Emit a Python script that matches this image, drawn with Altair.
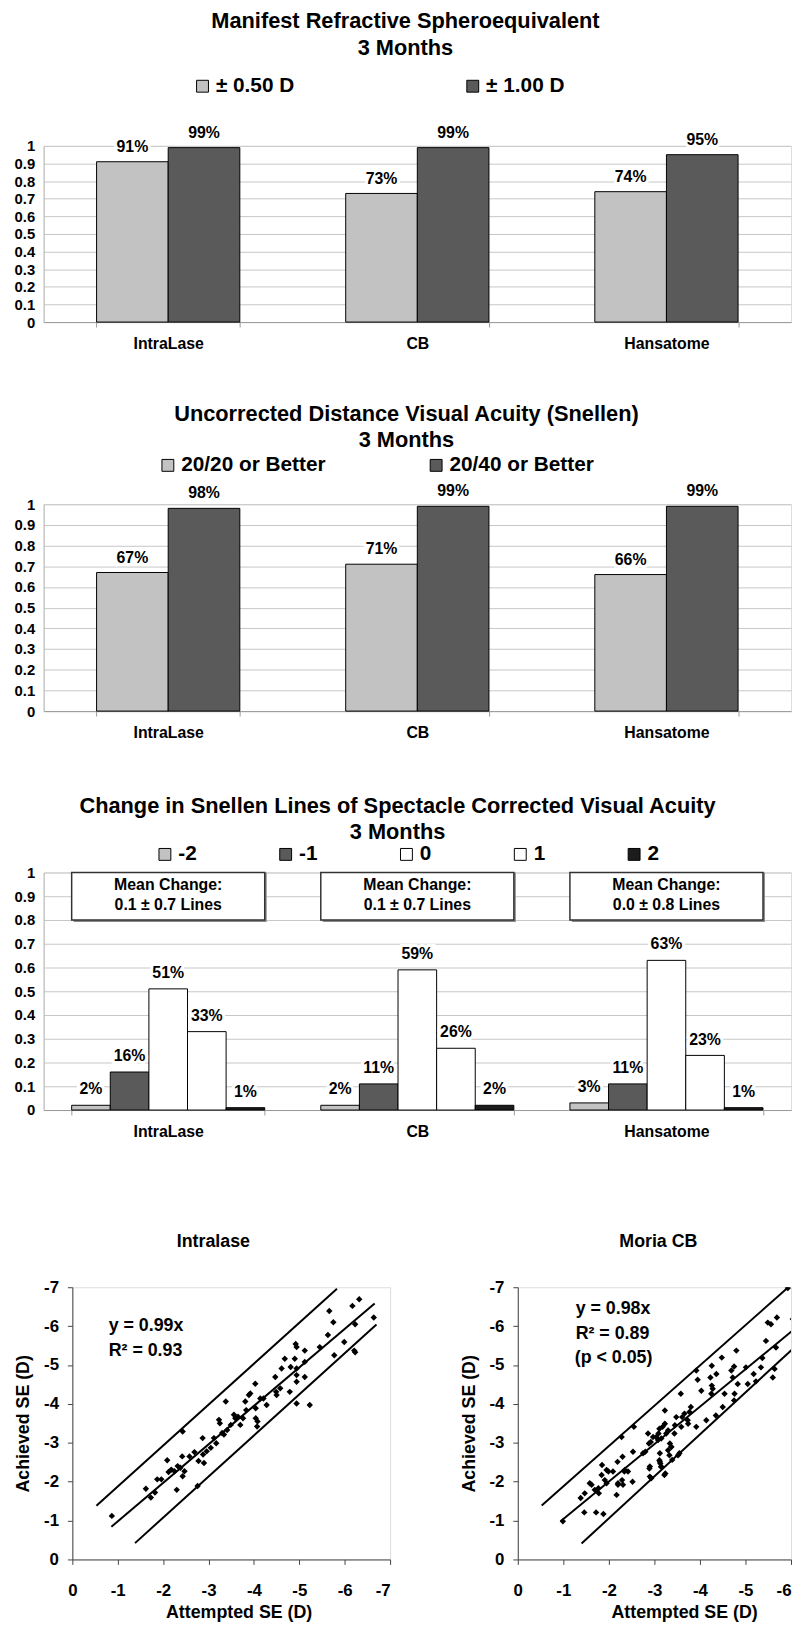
import altair as alt
import pandas as pd

FONT = "Liberation Sans"

# ---------------- data ----------------
categories = ["IntraLase", "CB", "Hansatome"]

mrse_series = ["± 0.50 D", "± 1.00 D"]
mrse_050 = [0.91, 0.73, 0.74]
mrse_100 = [0.99, 0.99, 0.95]

ucva_series = ["20/20 or Better", "20/40 or Better"]
ucva_2020 = [0.67, 0.71, 0.66]
ucva_2040 = [0.98, 0.99, 0.99]

bscva_series = ["-2", "-1", "0", "1", "2"]
bscva_intralase = [0.02, 0.16, 0.51, 0.33, 0.01]
bscva_cb = [0.02, 0.11, 0.59, 0.26, 0.02]
bscva_hansatome = [0.03, 0.11, 0.63, 0.23, 0.01]
mean_change_head = ["Mean Change:", "Mean Change:", "Mean Change:"]
mean_change_text = ["0.1 ± 0.7 Lines", "0.1 ± 0.7 Lines", "0.0 ± 0.8 Lines"]
box_bottom = [0.80, 0.80, 0.80]
box_top = [1.0, 1.0, 1.0]
box_line1_y = [0.948, 0.948, 0.948]
box_line2_y = [0.862, 0.862, 0.862]

intralase_attempted = [-0.87, -1.62, -1.73, -1.82, -1.87, -1.96, -2.09, -2.12, -2.18, -2.25, -2.30, -2.32, -2.38, -2.42, -2.43, -2.43, -2.47, -2.58, -2.69, -2.76, -2.78, -2.87, -2.88, -2.90, -2.96, -3.05, -3.12, -3.17, -3.23, -3.25, -3.30, -3.34, -3.38, -3.41, -3.49, -3.56, -3.59, -3.65, -3.70, -3.76, -3.81, -3.83, -3.89, -3.92, -4.03, -4.04, -4.04, -4.07, -4.08, -4.14, -4.21, -4.28, -4.47, -4.49, -4.50, -4.58, -4.61, -4.68, -4.79, -4.81, -4.90, -4.92, -4.94, -4.94, -4.94, -4.94, -4.94, -5.12, -5.12, -5.12, -5.23, -5.45, -5.63, -5.66, -5.75, -5.77, -5.99, -6.17, -6.21, -6.23, -6.23, -6.32, -6.64]
intralase_achieved = [-1.12, -1.82, -1.59, -1.72, -2.06, -2.06, -2.55, -2.25, -2.31, -2.27, -1.79, -2.40, -2.36, -2.65, -3.29, -2.14, -2.27, -2.65, -2.76, -1.89, -2.53, -3.12, -2.70, -2.48, -2.78, -2.87, -3.12, -2.99, -3.59, -3.50, -3.25, -3.21, -4.06, -3.33, -3.46, -3.72, -3.63, -3.67, -3.46, -3.63, -4.06, -3.84, -4.23, -4.27, -4.52, -3.89, -3.63, -3.42, -3.55, -4.14, -4.14, -3.97, -4.69, -4.31, -4.23, -4.40, -4.91, -5.16, -4.31, -4.95, -5.16, -5.54, -5.46, -4.91, -4.74, -4.57, -4.01, -5.37, -5.08, -4.69, -3.97, -5.46, -5.77, -6.39, -6.10, -5.25, -5.59, -6.52, -5.37, -5.33, -6.05, -6.69, -6.22]

moria_attempted = [-0.99, -1.38, -1.47, -1.46, -1.58, -1.62, -1.69, -1.72, -1.77, -1.78, -1.84, -1.85, -1.88, -1.91, -1.95, -1.99, -2.09, -2.17, -2.19, -2.20, -2.28, -2.30, -2.31, -2.34, -2.42, -2.52, -2.53, -2.55, -2.75, -2.80, -2.86, -2.88, -2.90, -2.90, -2.92, -2.97, -3.08, -3.09, -3.12, -3.12, -3.13, -3.15, -3.18, -3.23, -3.23, -3.24, -3.26, -3.30, -3.34, -3.37, -3.39, -3.45, -3.48, -3.52, -3.55, -3.58, -3.59, -3.61, -3.66, -3.74, -3.80, -3.92, -3.92, -4.03, -4.14, -4.23, -4.25, -4.28, -4.36, -4.50, -4.54, -4.69, -4.76, -4.80, -4.83, -5.01, -5.05, -5.18, -5.34, -5.45, -5.49, -5.56, -5.60, -5.64, -5.67, -5.69, -5.93, -6.04,
                   -3.04, -3.11, -3.15, -3.30, -3.37, -2.89, -2.93, -3.11, -3.15, -3.22, -3.33, -1.95, -2.20, -2.29, -2.35,
                   -4.48, -4.26, -3.95, -4.26, -4.75, -5.37, -4.72, -5.23, -4.75, -3.77, -4.35, -3.73, -3.44]
moria_achieved = [-0.98, -1.58, -1.70, -1.21, -1.96, -1.92, -1.79, -1.21, -1.83, -1.70, -2.17, -2.43, -1.17, -2.04, -1.96, -2.26, -2.26, -1.66, -2.51, -1.92, -3.15, -2.64, -1.92, -2.26, -2.26, -2.00, -2.77, -3.41, -2.73, -2.77, -3.24, -2.98, -2.39, -2.13, -3.02, -3.15, -3.07, -3.24, -2.73, -2.51, -2.47, -2.39, -3.41, -3.83, -3.49, -2.21, -3.24, -2.81, -2.98, -2.90, -2.56, -3.45, -3.66, -2.68, -2.73, -4.26, -3.41, -3.66, -3.75, -3.49, -3.92, -4.86, -3.41, -4.34, -3.58, -4.68, -4.26, -4.39, -4.77, -3.92, -4.26, -4.86, -4.26, -5.37, -4.51, -4.94, -4.51, -4.77, -4.94, -5.62, -6.09, -6.05, -4.68, -4.90, -5.45, -6.22, -6.98, -6.18,
                  -3.15, -3.36, -3.11, -3.32, -2.89, -2.34, -2.09, -2.55, -2.38, -2.17, -2.68, -2.30, -1.96, -2.04, -2.30,
                  -5.19, -4.98, -4.62, -4.47, -4.96, -5.18, -4.68, -4.58, -4.09, -3.79, -3.70, -3.58, -3.24]

line_ids = ["upper", "upper", "fit", "fit", "lower", "lower"]
intralase_line_x = [-0.53, -5.83, -0.86, -6.66, -1.38, -6.70]
intralase_line_y = [-1.38, -6.96, -0.84, -6.58, -0.42, -6.04]
moria_line_x = [-0.525, -5.94, -0.94, -6.07, -1.40, -6.07]
moria_line_y = [-1.39, -7.00, -0.98, -5.92, -0.41, -5.45]

intralase_ann = ["y = 0.99x", "R² = 0.93"]
intralase_ann_x = [-0.80, -0.80]
intralase_ann_y = [-6.01, -5.36]
moria_ann = ["y = 0.98x", "R² = 0.89", "(p < 0.05)"]
moria_ann_x = [-1.27, -1.27, -1.25]
moria_ann_y = [-6.43, -5.79, -5.19]

# ---------------- layout constants ----------------
BAR_W = 755
Y_TICKS = [0, 0.1, 0.2, 0.3, 0.4, 0.5, 0.6, 0.7, 0.8, 0.9, 1]


def long_df(series, columns):
    rows = []
    for s, vals in zip(series, columns):
        for c, v in zip(categories, vals):
            rows.append({"cat": c, "series": s, "value": v, "label": f"{round(v * 100)}%"})
    return pd.DataFrame(rows)


def bar_chart(df, series, colors, title_lines, height, legend_x, legend_y, col_pad,
              pad_inner, title_dx, title_offset, line_height, label_dy, box_df=None):
    xscale = alt.Scale(type="band", paddingInner=pad_inner, paddingOuter=pad_inner / 2)
    xaxis = alt.Axis(labelAngle=0, labelFont=FONT, labelFontSize=16, labelFontWeight="bold",
                     labelColor="black", labelPadding=9, tickBand="extent", ticks=True,
                     tickSize=5, tickColor="#9a9a9a", domainColor="#9a9a9a", grid=False)
    yscale = alt.Scale(domain=[0, 1], nice=False)
    yaxis = alt.Axis(values=Y_TICKS, format="~g", labelFont=FONT, labelFontSize=15,
                     labelFontWeight="bold", labelColor="black", labelPadding=9,
                     ticks=False, grid=True, gridColor="#c6c6c6", gridWidth=1,
                     domainColor="#b8b8b8", labelOverlap=False)
    x = alt.X("cat:N", sort=categories, title=None, scale=xscale, axis=xaxis)
    y = alt.Y("value:Q", title=None, scale=yscale, axis=yaxis)
    xo = alt.XOffset("series:N", sort=series,
                     scale=alt.Scale(type="band", domain=series, paddingInner=0, paddingOuter=0))
    base = alt.Chart(df)
    bars = base.mark_bar(stroke="black", strokeWidth=1).encode(
        x=x, xOffset=xo, y=y,
        color=alt.Color("series:N", sort=series,
                        scale=alt.Scale(domain=series, range=colors),
                        legend=alt.Legend(orient="none", legendX=legend_x, legendY=legend_y,
                                          direction="horizontal", title=None,
                                          symbolType="square", symbolSize=144,
                                          symbolStrokeColor="black", symbolStrokeWidth=1,
                                          symbolOpacity=1, labelFont=FONT, labelFontSize=21,
                                          labelFontWeight="bold", labelColor="black",
                                          labelOffset=3, columnPadding=col_pad, padding=0)))
    halo = base.mark_text(dy=label_dy, baseline="alphabetic", font=FONT, fontSize=16,
                          fontWeight="bold", color="white", stroke="white",
                          strokeWidth=6).encode(x=x, xOffset=xo, y=y, text="label:N")
    txt = base.mark_text(dy=label_dy, baseline="alphabetic", font=FONT, fontSize=16,
                         fontWeight="bold", color="black").encode(x=x, xOffset=xo, y=y,
                                                                  text="label:N")
    layers = [bars]
    if box_df is not None:
        bb = alt.Chart(box_df)
        layers.append(bb.mark_rect(fill="#8a8a8a", xOffset=2, yOffset=2).encode(
            x=x, y=alt.Y("b0:Q", title=None, scale=yscale, axis=yaxis), y2="b1:Q"))
        layers.append(bb.mark_rect(fill="white", stroke="#333333", strokeWidth=1.5).encode(
            x=x, y=alt.Y("b0:Q", title=None, scale=yscale, axis=yaxis), y2="b1:Q"))
        layers.append(bb.mark_text(font=FONT, fontSize=16, fontWeight="bold", color="black",
                                   baseline="middle").encode(
            x=x, y=alt.Y("l1:Q", title=None, scale=yscale, axis=yaxis), text="head:N"))
        layers.append(bb.mark_text(font=FONT, fontSize=16, fontWeight="bold", color="black",
                                   baseline="middle").encode(
            x=x, y=alt.Y("l2:Q", title=None, scale=yscale, axis=yaxis), text="txt:N"))
    layers += [halo, txt]
    return alt.layer(*layers).properties(
        width=BAR_W, height=height,
        title=alt.TitleParams(text=title_lines, font=FONT, fontSize=22, fontWeight="bold",
                              color="black", lineHeight=line_height, anchor="middle",
                              frame="group", dx=title_dx, offset=title_offset))


# chart 1
df1 = long_df(mrse_series, [mrse_050, mrse_100])
chart1 = bar_chart(df1, mrse_series, ["#c2c2c2", "#5a5a5a"],
                   ["Manifest Refractive Spheroequivalent", "3 Months"],
                   178, 150, -71, 169, 0.425, -12, 16, 27, -10)

# chart 2
df2 = long_df(ucva_series, [ucva_2020, ucva_2040])
chart2 = bar_chart(df2, ucva_series, ["#c2c2c2", "#5a5a5a"],
                   ["Uncorrected Distance Visual Acuity (Snellen)", "3 Months"],
                   209, 115, -50, 101, 0.425, -11, 3, 26, -10)

# chart 3
df3 = long_df(bscva_series, [list(v) for v in zip(bscva_intralase, bscva_cb, bscva_hansatome)])
box_df = pd.DataFrame({"cat": categories, "head": mean_change_head, "txt": mean_change_text,
                       "b0": box_bottom, "b1": box_top, "l1": box_line1_y, "l2": box_line2_y})
chart3 = bar_chart(df3, bscva_series, ["#c2c2c2", "#5a5a5a", "#ffffff", "#ffffff", "#1c1c1c"],
                   ["Change in Snellen Lines of Spectacle Corrected Visual Acuity", "3 Months"],
                   240, 112, -29, 79, 0.225, -20, 0, 26, -11, box_df=box_df)


# scatter plots
def scatter(att, ach, lx, ly, ann, ax, ay, title, title_dx, xmax, width):
    xs = alt.Scale(domain=[0, xmax], nice=False)
    ys = alt.Scale(domain=[0, -7], nice=False)
    xvals = list(range(0, xmax - 1, -1))
    x_axis = alt.Axis(values=xvals, labelExpr="datum.value + ''", labelFont=FONT,
                      labelFontSize=17, labelFontWeight="bold", labelColor="black",
                      labelPadding=18, tickSize=5, tickColor="#444", domainColor="#444",
                      grid=False, title="Attempted SE (D)", titleFont=FONT, titleFontSize=18,
                      titleFontWeight="bold", titleColor="black", titlePadding=6, titleX=168,
                      labelAlign={"condition": {"test": f"datum.value <= {xmax}", "value": "right"},
                                  "value": "center"})
    y_axis = alt.Axis(values=list(range(0, -8, -1)), labelExpr="datum.value + ''", labelFont=FONT,
                      labelFontSize=17, labelFontWeight="bold", labelColor="black",
                      labelPadding=9, tickSize=5, tickColor="#444", domainColor="#444",
                      grid=False, title="Achieved SE (D)", titleFont=FONT, titleFontSize=18,
                      titleFontWeight="bold", titleColor="black", titlePadding=11)
    pts = alt.Chart(pd.DataFrame({"att": att, "ach": ach})).mark_point(
        shape="diamond", filled=True, size=42, color="black", opacity=1, clip=True).encode(
        x=alt.X("att:Q", scale=xs, axis=x_axis), y=alt.Y("ach:Q", scale=ys, axis=y_axis))
    lines = alt.Chart(pd.DataFrame({"id": line_ids, "lx": lx, "ly": ly})).mark_line(
        color="black", strokeWidth=2, clip=True).encode(
        x=alt.X("lx:Q", scale=xs, axis=x_axis), y=alt.Y("ly:Q", scale=ys, axis=y_axis),
        detail="id:N")
    txt = alt.Chart(pd.DataFrame({"t": ann, "ax": ax, "ay": ay})).mark_text(
        align="left", baseline="middle", font=FONT, fontSize=18, fontWeight="bold",
        color="black").encode(x=alt.X("ax:Q", scale=xs, axis=x_axis),
                              y=alt.Y("ay:Q", scale=ys, axis=y_axis), text="t:N")
    return alt.layer(lines, pts, txt).properties(
        width=width, height=275,
        title=alt.TitleParams(text=title, font=FONT, fontSize=18, fontWeight="bold",
                              color="black", anchor="middle", frame="group", dx=title_dx,
                              offset=28))


s1 = scatter(intralase_attempted, intralase_achieved, intralase_line_x, intralase_line_y,
             intralase_ann, intralase_ann_x, intralase_ann_y, "Intralase", -18, -7, 321)
s2 = scatter(moria_attempted, moria_achieved, moria_line_x, moria_line_y,
             moria_ann, moria_ann_x, moria_ann_y, "Moria CB", 4, -6, 276)


def spacer(w, h):
    return alt.Chart(pd.DataFrame({"v": [0]})).mark_point(opacity=0, size=0).encode(
        x=alt.value(0), y=alt.value(0)).properties(
        width=w, height=h, view=alt.ViewBackground(stroke="transparent", strokeWidth=0,
                                                   fill="transparent"))


scatter_row = alt.hconcat(spacer(29, 275), s1, spacer(129, 275), s2, spacing=0, bounds="flush")

chart = alt.vconcat(chart1, spacer(20, 184), chart2, spacer(20, 163), chart3, spacer(20, 179),
                    scatter_row, spacing=0, bounds="flush").resolve_scale(
    color="independent", xOffset="independent").properties(
    padding={"left": 5, "top": -7, "right": 0, "bottom": 0}
).configure_view(stroke="transparent", strokeWidth=0).configure(font=FONT)

chart.save("out.html", embed_options={"renderer": "svg", "actions": False})
